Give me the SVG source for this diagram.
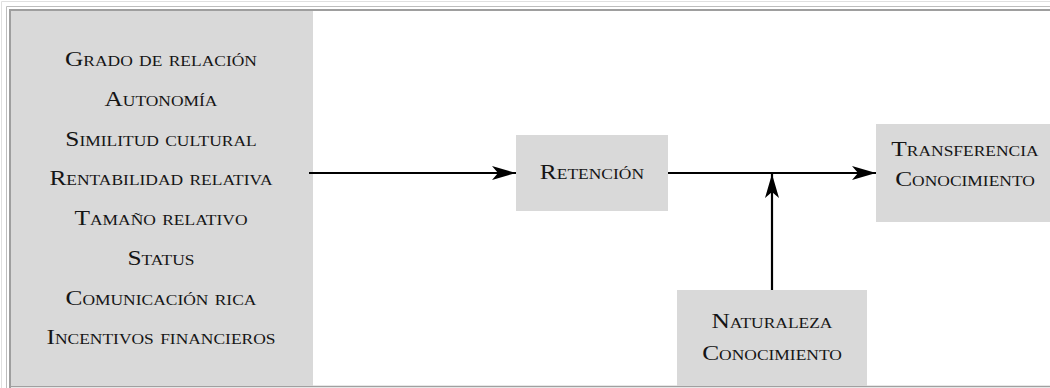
<svg xmlns="http://www.w3.org/2000/svg" width="1050" height="388" viewBox="0 0 1050 388">
  <style>
    .box { fill: #d9d9d9; }
    .lbl { font-family: "Liberation Serif", "Times New Roman", serif; font-size: 21px; font-variant: small-caps; fill: #151515; text-anchor: middle; transform-box: fill-box; transform-origin: center; transform: scaleX(1.21); }
    .conn { stroke: #000; stroke-width: 2.2; fill: none; }
  </style>
  <defs>
    <marker id="arr" markerUnits="userSpaceOnUse" markerWidth="26" markerHeight="16" refX="24" refY="7" orient="auto">
      <path d="M0,0 L24,7 L0,14 L6,7 Z" fill="#000"/>
    </marker>
  </defs>
  <rect width="1050" height="388" fill="#fff"/>
  <g id="frame">
    <path d="M1.5,388 V1.5 H1050" fill="none" stroke="#e0e0e0" stroke-width="1"/>
    <path d="M6.5,388 V6.5 H1050" fill="none" stroke="#bdbdbd" stroke-width="1"/>
    <path d="M10,388 V10 H1050" fill="none" stroke="#9e9e9e" stroke-width="2"/>
    <line x1="10" y1="386.5" x2="1050" y2="386.5" stroke="#a0a0a0" stroke-width="1.5"/>
  </g>
  <g id="factores">
    <rect class="box" x="11" y="11" width="302" height="375"/>
    <text class="lbl" x="161" y="66">Grado de relación</text>
    <text class="lbl" x="161" y="106">Autonomía</text>
    <text class="lbl" x="161" y="146">Similitud cultural</text>
    <text class="lbl" x="161" y="185">Rentabilidad relativa</text>
    <text class="lbl" x="161" y="225">Tamaño relativo</text>
    <text class="lbl" x="161" y="265">Status</text>
    <text class="lbl" x="161" y="305">Comunicación rica</text>
    <text class="lbl" x="161" y="344">Incentivos financieros</text>
  </g>
  <g id="retencion">
    <rect class="box" x="516" y="135" width="152" height="76"/>
    <text class="lbl" x="592" y="179">Retención</text>
  </g>
  <g id="transferencia">
    <rect class="box" x="876" y="124" width="174" height="98"/>
    <text class="lbl" x="965" y="156">Transferencia</text>
    <text class="lbl" x="965" y="186">Conocimiento</text>
  </g>
  <g id="naturaleza">
    <rect class="box" x="677" y="290" width="190" height="96"/>
    <text class="lbl" x="772" y="328">Naturaleza</text>
    <text class="lbl" x="772" y="360">Conocimiento</text>
  </g>
  <g id="connectors">
    <line class="conn" x1="309" y1="173" x2="516" y2="173" marker-end="url(#arr)"/>
    <line class="conn" x1="668" y1="173" x2="876" y2="173" marker-end="url(#arr)"/>
    <line class="conn" x1="772" y1="290" x2="772" y2="174" marker-end="url(#arr)"/>
  </g>
</svg>
